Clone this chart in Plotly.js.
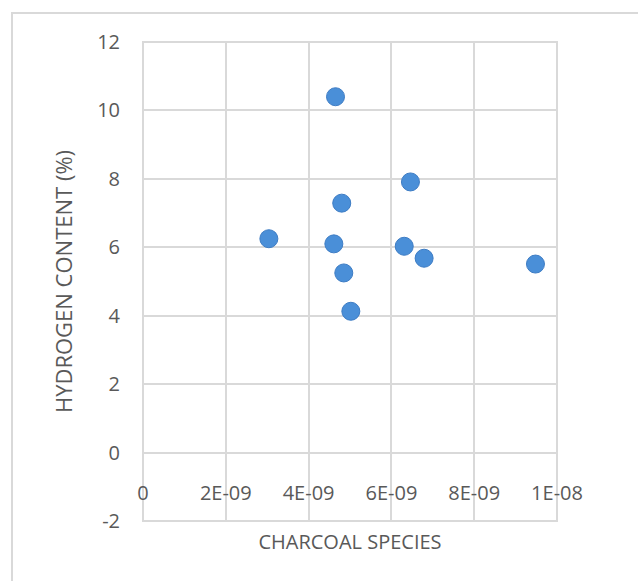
<!DOCTYPE html>
<html>
<head>
<meta charset="utf-8">
<script src="https://cdn.plot.ly/plotly-3.0.1.min.js"></script>
<style>html,body{margin:0;padding:0;background:#fff;}#chart{width:638px;height:581px;}</style>
</head>
<body>
<div id="chart"></div>
<script>
// Data
const charcoalSpecies = [4.65e-9, 6.46e-9, 4.80e-9, 3.04e-9, 4.61e-9, 6.31e-9, 6.79e-9, 4.85e-9, 5.02e-9, 9.48e-9];
const hydrogenContent = [10.40, 7.91, 7.29, 6.25, 6.10, 6.03, 5.68, 5.25, 4.13, 5.51];

const xTickVals = [0, 2e-9, 4e-9, 6e-9, 8e-9, 1e-8];
const xTickText = ['0', '2E-09', '4E-09', '6E-09', '8E-09', '1E-08'];
const yTickVals = [-2, 0, 2, 4, 6, 8, 10, 12];
const yTickText = ['-2', '0', '2', '4', '6', '8', '10', '12'];

const FONT = '"Open Sans", "Liberation Sans", sans-serif';
const GREY = '#595959';
const GRID = '#d9d9d9';

const trace = {
  type: 'scatter',
  mode: 'markers',
  x: charcoalSpecies,
  y: hydrogenContent,
  marker: {
    size: 18,
    color: '#4a8fd8',
    line: {color: '#3d7cc4', width: 1}
  },
  hoverinfo: 'x+y'
};

const layout = {
  width: 638,
  height: 581,
  margin: {l: 143, r: 81, t: 42, b: 59.5},
  paper_bgcolor: '#ffffff',
  plot_bgcolor: '#ffffff',
  showlegend: false,
  font: {family: FONT, size: 20, color: GREY},
  xaxis: {
    range: [0, 1e-8],
    tickvals: xTickVals,
    ticktext: xTickText,
    showgrid: true,
    gridcolor: GRID,
    gridwidth: 2,
    zeroline: false,
    showline: false,
    ticks: '',
    anchor: 'free',
    position: 2 / 14,
    ticklabelstandoff: 26,
    tickfont: {family: FONT, size: 20, color: GREY},
    title: {text: 'CHARCOAL SPECIES', font: {family: FONT, size: 20, color: GREY}, standoff: 30}
  },
  yaxis: {
    range: [-2, 12],
    tickvals: yTickVals,
    ticktext: yTickText,
    showgrid: true,
    gridcolor: GRID,
    gridwidth: 2,
    zeroline: false,
    showline: false,
    ticks: '',
    ticklabelstandoff: 22,
    tickfont: {family: FONT, size: 20, color: GREY},
    title: {text: 'HYDROGEN CONTENT (%)', font: {family: FONT, size: 22, color: GREY}, standoff: 18}
  },
  shapes: [{
    type: 'rect', xref: 'paper', yref: 'paper',
    x0: -0.3164, x1: 1.5, y0: -0.5, y1: 1.0605,
    line: {color: GRID, width: 2}, fillcolor: 'rgba(0,0,0,0)', layer: 'below'
  }, {
    type: 'rect', xref: 'paper', yref: 'paper',
    x0: 0, x1: 1, y0: 0, y1: 1,
    line: {color: GRID, width: 2}, fillcolor: 'rgba(0,0,0,0)', layer: 'below'
  }]
};

Plotly.newPlot('chart', [trace], layout, {displayModeBar: false, staticPlot: true});
</script>
</body>
</html>
